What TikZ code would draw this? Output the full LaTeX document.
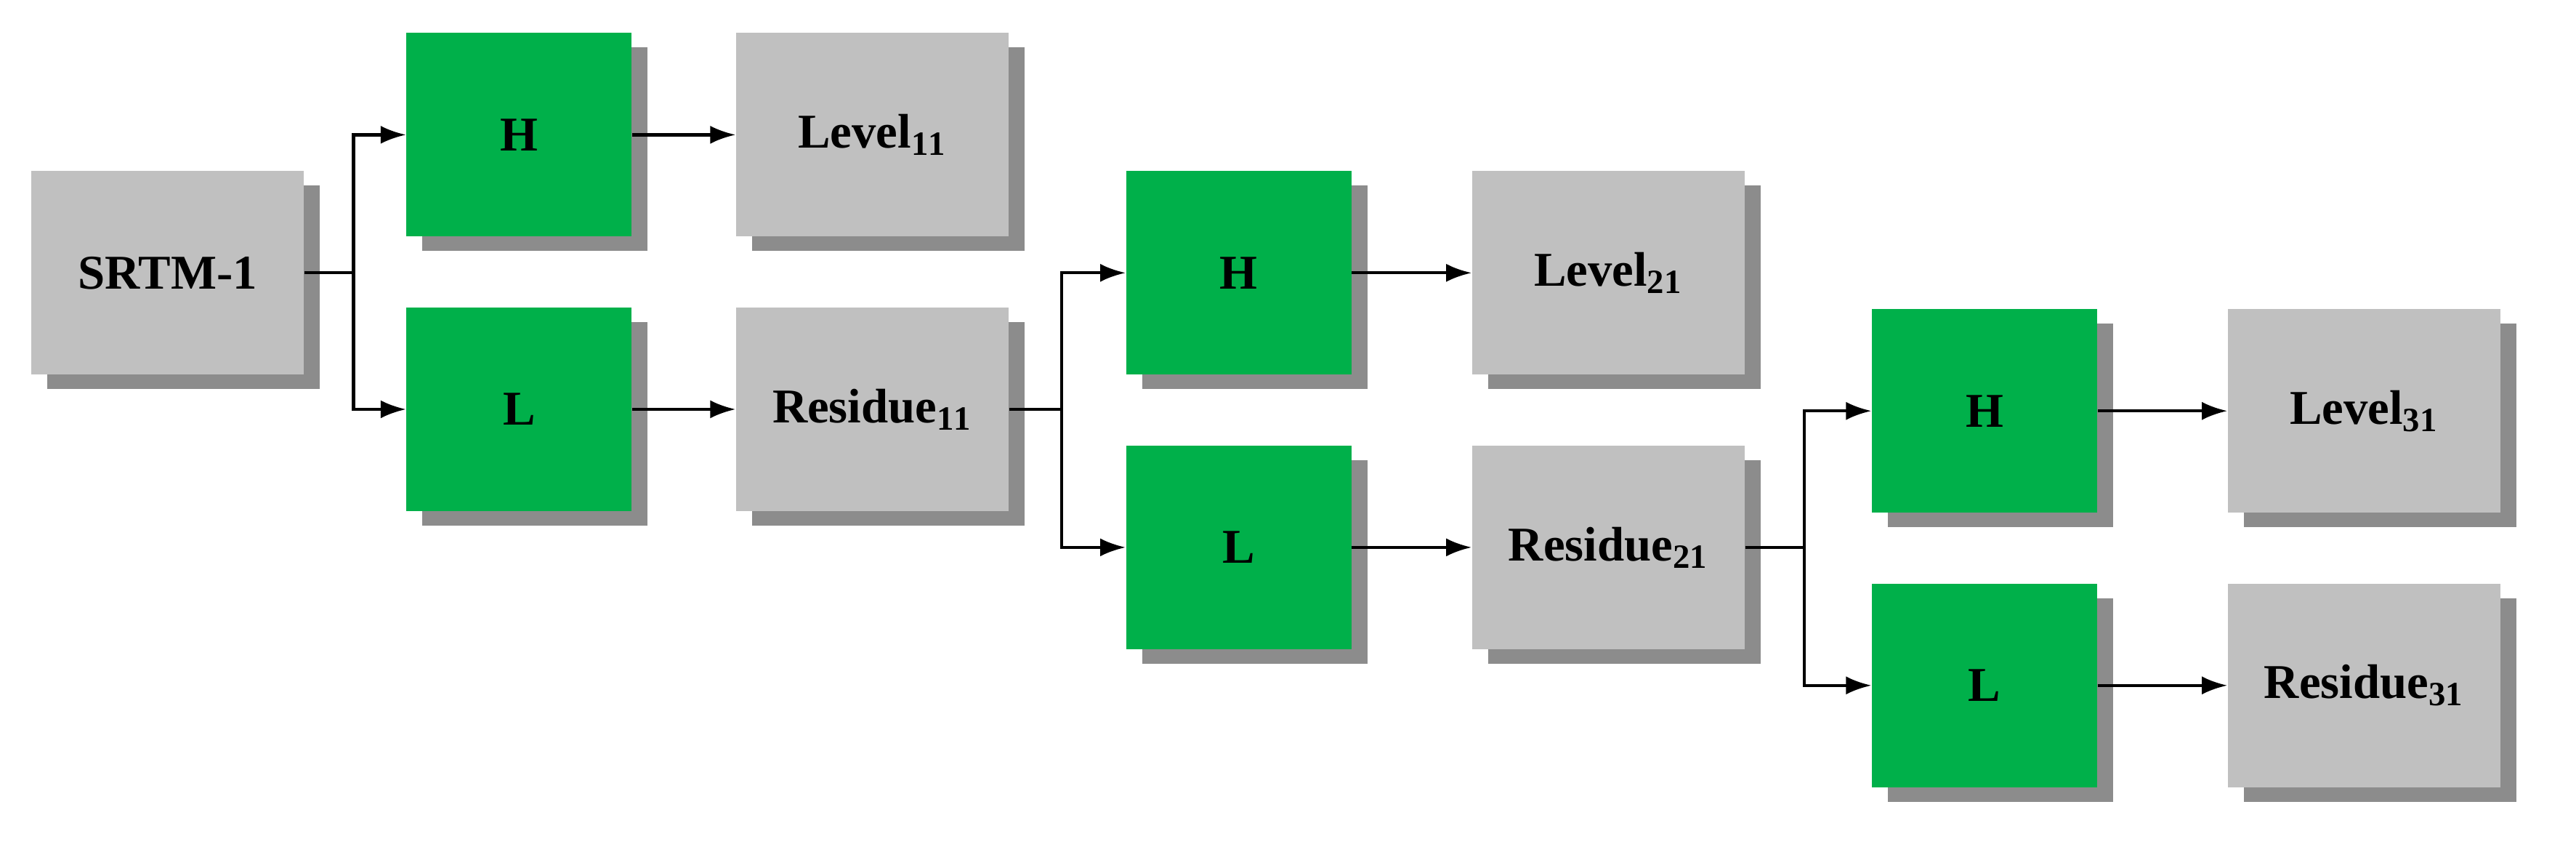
\documentclass[tikz,border=0pt]{standalone}
\usepackage{fontspec}
\setmainfont{Liberation Serif}
\usetikzlibrary{shadows,arrows.meta}
\definecolor{gbox}{HTML}{C0C0C0}
\definecolor{grn}{HTML}{00B04A}
\tikzset{
 sh/.style={drop shadow={shadow xshift=0.22cm,shadow yshift=-0.2cm,fill=black,opacity=0.45}},
 graybox/.style={fill=gbox,minimum width=3.75cm,minimum height=2.8cm,inner sep=0pt,sh,font=\fontsize{19}{23}\selectfont\bfseries},
 greenbox/.style={fill=grn,minimum width=3.1cm,minimum height=2.8cm,inner sep=0pt,sh,font=\fontsize{19}{23}\selectfont\bfseries},
 arr/.style={-{Latex[length=0.35cm,width=0.25cm]},line width=1.2pt},
 ln/.style={line width=1.2pt}
}
\begin{document}
\begin{tikzpicture}[x=0.02261cm,y=-0.02261cm]
\useasboundingbox (0,0) rectangle (1568,520);
\node[graybox] (s) at (102,166) {SRTM-1};
\node[greenbox] (h1) at (316,82) {H};
\node[greenbox] (l1) at (316,249) {L};
\node[graybox] (v11) at (531,82) {Level$_{\mathbf{11}}$};
\node[graybox] (r11) at (531,249) {Residue$_{\mathbf{11}}$};
\node[greenbox] (h2) at (754,166) {H};
\node[greenbox] (l2) at (754,333) {L};
\node[graybox] (v21) at (979,166) {Level$_{\mathbf{21}}$};
\node[graybox] (r21) at (979,333) {Residue$_{\mathbf{21}}$};
\node[greenbox] (h3) at (1208,250) {H};
\node[greenbox] (l3) at (1208,417) {L};
\node[graybox] (v31) at (1439,250) {Level$_{\mathbf{31}}$};
\node[graybox] (r31) at (1439,417) {Residue$_{\mathbf{31}}$};
\draw[ln] (s.east) -- ++(30,0) coordinate (j1);
\draw[arr] (j1) |- (h1.west);
\draw[arr] (j1) |- (l1.west);
\draw[ln] (r11.east) -- ++(32,0) coordinate (j2);
\draw[arr] (j2) |- (h2.west);
\draw[arr] (j2) |- (l2.west);
\draw[ln] (r21.east) -- ++(36,0) coordinate (j3);
\draw[arr] (j3) |- (h3.west);
\draw[arr] (j3) |- (l3.west);
\draw[arr] (h1) -- (v11);
\draw[arr] (l1) -- (r11);
\draw[arr] (h2) -- (v21);
\draw[arr] (l2) -- (r21);
\draw[arr] (h3) -- (v31);
\draw[arr] (l3) -- (r31);
\end{tikzpicture}
\end{document}
